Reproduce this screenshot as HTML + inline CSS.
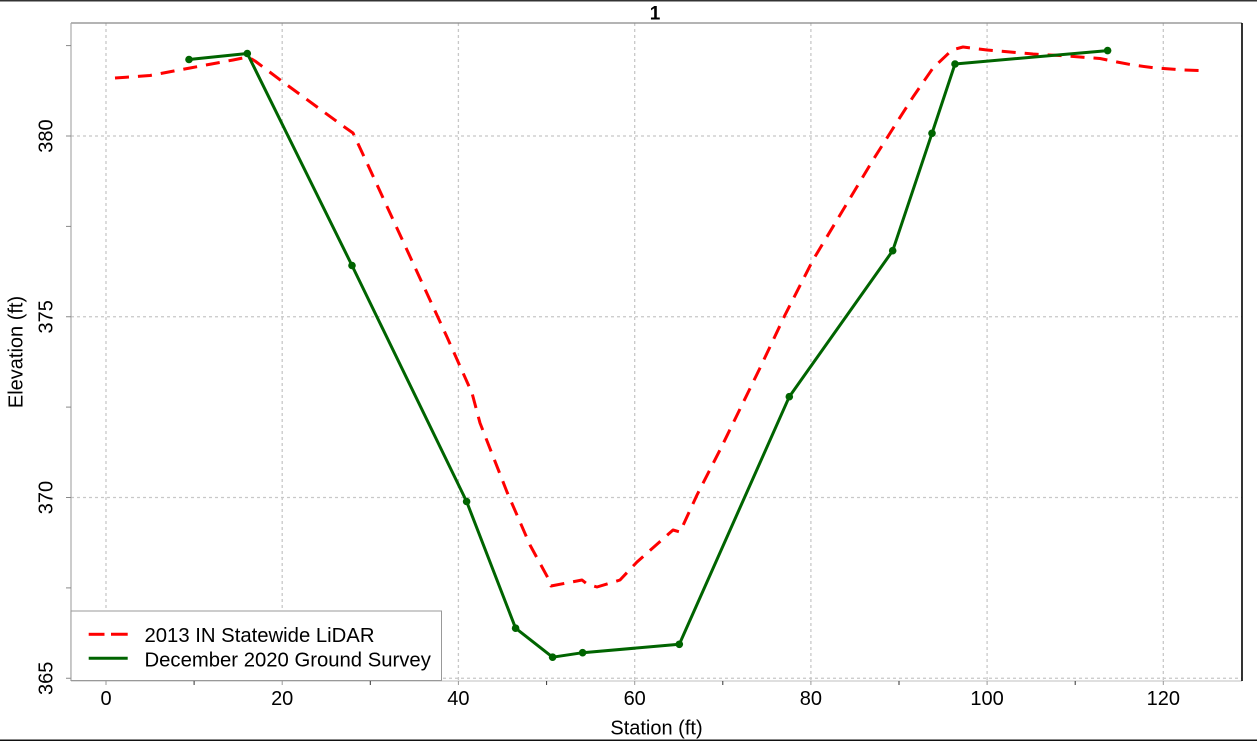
<!DOCTYPE html>
<html>
<head>
<meta charset="utf-8">
<style>
  html, body { margin: 0; padding: 0; background: #fff; }
  body { width: 1257px; height: 741px; overflow: hidden; }
  svg { display: block; }
  text { font-family: "Liberation Sans", Arial, sans-serif; fill: #000; }
</style>
</head>
<body>
<svg width="1257" height="741" viewBox="0 0 1257 741" xmlns="http://www.w3.org/2000/svg">
  <rect x="0" y="0" width="1257" height="741" fill="#fff"/>
  <!-- outer top/bottom dark lines -->
  <rect x="0" y="0" width="1257" height="1.5" fill="#333"/>
  <rect x="0" y="739.5" width="1257" height="1.5" fill="#111"/>

  <!-- title -->
  <text x="655" y="19.5" font-size="19" font-weight="bold" text-anchor="middle">1</text>

  <!-- gridlines -->
  <g stroke="#c8c8c8" stroke-width="1.3" stroke-dasharray="3,3" fill="none">
    <line x1="106" y1="23" x2="106" y2="681"/>
    <line x1="282.2" y1="23" x2="282.2" y2="681"/>
    <line x1="458.4" y1="23" x2="458.4" y2="681"/>
    <line x1="634.7" y1="23" x2="634.7" y2="681"/>
    <line x1="810.9" y1="23" x2="810.9" y2="681"/>
    <line x1="987.1" y1="23" x2="987.1" y2="681"/>
    <line x1="1163.3" y1="23" x2="1163.3" y2="681"/>
    <line x1="71" y1="136" x2="1242" y2="136"/>
    <line x1="71" y1="316.75" x2="1242" y2="316.75"/>
    <line x1="71" y1="497.5" x2="1242" y2="497.5"/>
    <line x1="71" y1="678.25" x2="1242" y2="678.25"/>
  </g>

  <!-- plot frame -->
  <line x1="71" y1="23" x2="1242" y2="23" stroke="#888" stroke-width="1.3"/>
  <line x1="71" y1="23" x2="71" y2="681" stroke="#aaa" stroke-width="1.2"/>
  <line x1="71" y1="681" x2="1242" y2="681" stroke="#ccc" stroke-width="1.2"/>
  <line x1="1242" y1="23" x2="1242" y2="681" stroke="#000" stroke-width="1.6"/>

  <!-- y ticks -->
  <g stroke="#888" stroke-width="1">
    <line x1="66" y1="45.6" x2="71" y2="45.6"/>
    <line x1="66" y1="136" x2="71" y2="136"/>
    <line x1="66" y1="226.4" x2="71" y2="226.4"/>
    <line x1="66" y1="316.75" x2="71" y2="316.75"/>
    <line x1="66" y1="407.1" x2="71" y2="407.1"/>
    <line x1="66" y1="497.5" x2="71" y2="497.5"/>
    <line x1="66" y1="587.9" x2="71" y2="587.9"/>
    <line x1="66" y1="678.25" x2="71" y2="678.25"/>
  </g>
  <!-- x ticks -->
  <g stroke="#999" stroke-width="1">
    <line x1="106" y1="681" x2="106" y2="685"/>
    <line x1="282.2" y1="681" x2="282.2" y2="685"/>
    <line x1="458.4" y1="681" x2="458.4" y2="685"/>
    <line x1="634.7" y1="681" x2="634.7" y2="685"/>
    <line x1="810.9" y1="681" x2="810.9" y2="685"/>
    <line x1="987.1" y1="681" x2="987.1" y2="685"/>
    <line x1="1163.3" y1="681" x2="1163.3" y2="685"/>
  </g>
  <g stroke="#333" stroke-width="1">
    <line x1="194.1" y1="681" x2="194.1" y2="685"/>
    <line x1="370.3" y1="681" x2="370.3" y2="685"/>
    <line x1="546.6" y1="681" x2="546.6" y2="685"/>
    <line x1="722.8" y1="681" x2="722.8" y2="685"/>
    <line x1="899" y1="681" x2="899" y2="685"/>
    <line x1="1075.2" y1="681" x2="1075.2" y2="685"/>
  </g>

  <!-- x tick labels -->
  <g font-size="20" text-anchor="middle">
    <text x="106" y="705">0</text>
    <text x="282.2" y="705">20</text>
    <text x="458.4" y="705">40</text>
    <text x="634.7" y="705">60</text>
    <text x="810.9" y="705">80</text>
    <text x="987.1" y="705">100</text>
    <text x="1163.3" y="705">120</text>
  </g>
  <!-- y tick labels -->
  <g font-size="20" text-anchor="middle">
    <text transform="translate(52.5,136) rotate(-90)">380</text>
    <text transform="translate(52.5,316.75) rotate(-90)">375</text>
    <text transform="translate(52.5,497.5) rotate(-90)">370</text>
    <text transform="translate(52.5,678.25) rotate(-90)">365</text>
  </g>

  <!-- axis titles -->
  <text x="656.5" y="734.5" font-size="20" text-anchor="middle">Station (ft)</text>
  <text transform="translate(22.5,352) rotate(-90)" font-size="20" text-anchor="middle">Elevation (ft)</text>

  <!-- LiDAR series -->
  <polyline fill="none" stroke="#ff0000" stroke-width="3" stroke-dasharray="14,9" stroke-linejoin="round"
    points="115,78 150,75.5 190,68 233,60 248,57 255,61 283,82 343,126 353,133 367,163 407,250 447,337 472,393 480,423 507,492 530,545 548,578 551,586 582,580 587,584 597,587 620,580 637,562 673,530 680,532 697,495 720,450 760,368 785,315 813,260 843,210 873,160 892,130 913,97 933,68 952,50 963,47 987,50 1033,54 1067,56 1100,58.5 1117,62 1133,65 1153,67.7 1183,70 1199,70.5"/>

  <!-- Ground survey series -->
  <polyline fill="none" stroke="#006400" stroke-width="3" stroke-linejoin="round"
    points="189,59.5 247.3,53.5 352,265.5 466.6,501.5 515.6,628.2 552.6,657.2 582.6,652.7 679.3,644.3 789.3,396.7 892.7,250.7 932,133.3 955,64 1107.6,50.6"/>
  <g fill="#006400">
    <circle cx="189" cy="59.5" r="3.8"/>
    <circle cx="247.3" cy="53.5" r="3.8"/>
    <circle cx="352" cy="265.5" r="3.8"/>
    <circle cx="466.6" cy="501.5" r="3.8"/>
    <circle cx="515.6" cy="628.2" r="3.8"/>
    <circle cx="552.6" cy="657.2" r="3.8"/>
    <circle cx="582.6" cy="652.7" r="3.8"/>
    <circle cx="679.3" cy="644.3" r="3.8"/>
    <circle cx="789.3" cy="396.7" r="3.8"/>
    <circle cx="892.7" cy="250.7" r="3.8"/>
    <circle cx="932" cy="133.3" r="3.8"/>
    <circle cx="955" cy="64" r="3.8"/>
    <circle cx="1107.6" cy="50.6" r="3.8"/>
  </g>

  <!-- legend -->
  <rect x="71" y="611" width="370.5" height="69.5" fill="#fff" stroke="#999" stroke-width="1"/>
  <line x1="88.7" y1="634.3" x2="104.5" y2="634.3" stroke="#ff0000" stroke-width="3"/>
  <line x1="111" y1="634.3" x2="127.7" y2="634.3" stroke="#ff0000" stroke-width="3"/>
  <line x1="88.7" y1="658.3" x2="127.7" y2="658.3" stroke="#006400" stroke-width="3"/>
  <text x="144.5" y="642" font-size="20.3">2013 IN Statewide LiDAR</text>
  <text x="144.5" y="666.5" font-size="20.3">December 2020 Ground Survey</text>
</svg>
</body>
</html>
